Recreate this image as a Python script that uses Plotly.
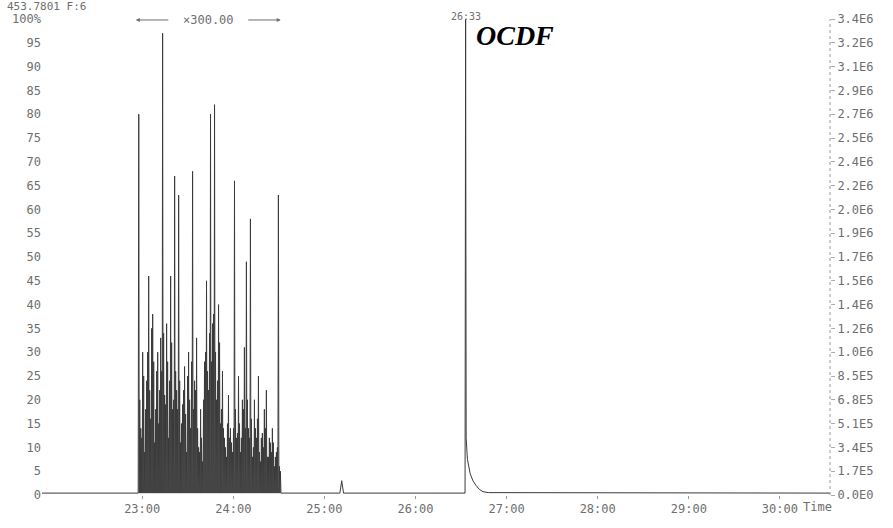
import plotly.graph_objects as go

# ---- chromatogram data (retention time in minutes, relative abundance in %) ----
# resolved spikes of the x300 enlarged region
cluster_times = [
    22.962, 22.984, 23.005, 23.027, 23.049, 23.071, 23.093, 23.115, 23.137, 23.159,
    23.181, 23.203, 23.224, 23.246, 23.268, 23.290, 23.312, 23.334, 23.356, 23.378,
    23.400, 23.422, 23.443, 23.465, 23.487, 23.509, 23.531, 23.553, 23.575, 23.597,
    23.619, 23.641, 23.662, 23.684, 23.706, 23.728, 23.750, 23.772, 23.794, 23.816,
    23.838, 23.860, 23.881, 23.903, 23.925, 23.947, 23.969, 23.991, 24.013, 24.035,
    24.057, 24.079, 24.100, 24.122, 24.144, 24.166, 24.188, 24.210, 24.232, 24.254,
    24.276, 24.298, 24.319, 24.341, 24.363, 24.385, 24.407, 24.429, 24.451, 24.473,
    24.495, 24.517,
]
cluster_heights = [
    80, 14, 30, 9, 24, 46, 16, 38, 11, 26,
    15, 33, 97, 21, 36, 12, 46, 18, 67, 22,
    63, 11, 19, 27, 9, 30, 14, 68, 24, 33,
    10, 18, 7, 28, 45, 22, 80, 36, 82, 20,
    40, 15, 26, 12, 8, 21, 14, 9, 66, 12,
    25, 9, 20, 31, 49, 14, 58, 8, 20, 12,
    25, 7, 13, 18, 22, 8, 11, 14, 6, 9,
    63, 5,
]
# minor spikes lying between the resolved ones
minor_times = [
    22.973, 22.995, 23.016, 23.038, 23.060, 23.082, 23.104, 23.126, 23.148, 23.170,
    23.192, 23.214, 23.235, 23.257, 23.279, 23.301, 23.323, 23.345, 23.367, 23.389,
    23.411, 23.432, 23.454, 23.476, 23.498, 23.520, 23.542, 23.564, 23.586, 23.608,
    23.630, 23.651, 23.673, 23.695, 23.717, 23.739, 23.761, 23.783, 23.805, 23.827,
    23.849, 23.870, 23.892, 23.914, 23.936, 23.958, 23.980, 24.002, 24.024, 24.046,
    24.068, 24.089, 24.111, 24.133, 24.155, 24.177, 24.199, 24.221, 24.243, 24.265,
    24.287, 24.308, 24.330, 24.352, 24.374, 24.396, 24.418, 24.440, 24.462, 24.484,
    24.506,
]
minor_heights = [
    20, 12, 25, 18, 30, 22, 35, 28, 18, 30,
    22, 26, 34, 19, 28, 24, 32, 20, 26, 18,
    24, 15, 22, 17, 25, 20, 28, 18, 22, 14,
    9, 12, 20, 30, 26, 34, 28, 38, 30, 24,
    32, 18, 14, 10, 15, 12, 11, 14, 18, 13,
    15, 12, 18, 14, 20, 12, 16, 10, 14, 16,
    9, 12, 10, 14, 8, 12, 9, 11, 8, 10,
    6,
]

small_peak_time = 25.19
small_peak_height = 3

ocdf_time = 26.55           # 26:33
ocdf_label = "26:33"
ocdf_height = 100
ocdf_tail_times = [26.556, 26.57, 26.60, 26.63, 26.665, 26.70, 26.74, 26.80]
ocdf_tail_heights = [12, 7.5, 4.5, 3.0, 2.0, 1.2, 0.7, 0.5]

time_range = [21.9, 30.55]
baseline_level = 0.4

x_ticks = [23, 24, 25, 26, 27, 28, 29, 30]
x_ticktext = ["23:00", "24:00", "25:00", "26:00", "27:00", "28:00", "29:00", "30:00"]

pct_ticks = list(range(0, 101, 5))
pct_ticktext = [str(v) for v in range(0, 100, 5)] + ["100%"]
abs_ticktext = ["0.0E0", "1.7E5", "3.4E5", "5.1E5", "6.8E5", "8.5E5", "1.0E6",
                "1.2E6", "1.4E6", "1.5E6", "1.7E6", "1.9E6", "2.0E6", "2.2E6",
                "2.4E6", "2.5E6", "2.7E6", "2.9E6", "3.1E6", "3.2E6", "3.4E6"]

header_text = "453.7801 F:6"
magnify_text = "×300.00"
magnified_range = [22.93, 24.52]

# ---- build the trace: each peak is a narrow spike rising from the baseline ----
spikes = sorted(zip(cluster_times + minor_times, cluster_heights + minor_heights))
xs = [time_range[0], spikes[0][0] - 0.006]
ys = [baseline_level, baseline_level]
for i, (t, h) in enumerate(spikes):
    xs.append(t)
    ys.append(h)
    nxt = spikes[i + 1][0] if i + 1 < len(spikes) else t + 0.012
    xs.append((t + nxt) / 2)
    ys.append(baseline_level)

xs += [small_peak_time - 0.02, small_peak_time, small_peak_time + 0.02,
       ocdf_time - 0.006, ocdf_time]
ys += [baseline_level, small_peak_height, baseline_level,
       baseline_level, ocdf_height]
xs += ocdf_tail_times + [time_range[1]]
ys += ocdf_tail_heights + [baseline_level]

GRAY = "#6e6e6e"
MONO = "DejaVu Sans Mono"

fig = go.Figure()
fig.add_trace(go.Scatter(
    x=xs, y=ys, mode="lines",
    line=dict(color="#3a3a3a", width=1),
    showlegend=False, hoverinfo="skip",
))
# carrier trace for the absolute-intensity axis on the right
fig.add_trace(go.Scatter(
    x=[time_range[0]], y=[0], yaxis="y2", mode="lines",
    line=dict(width=0), showlegend=False, hoverinfo="skip",
))

fig.update_layout(
    width=893, height=528,
    margin=dict(l=40, r=63, t=18, b=21),
    paper_bgcolor="white", plot_bgcolor="white",
    font=dict(family=MONO, size=12, color=GRAY),
    xaxis=dict(
        range=time_range, tickvals=x_ticks, ticktext=x_ticktext,
        showgrid=False, zeroline=False, showline=False,
        ticks="outside", ticklen=3, tickcolor="#999",
        tickfont=dict(family=MONO, size=12, color=GRAY),
    ),
    yaxis=dict(
        range=[0, 100], tickvals=pct_ticks, ticktext=pct_ticktext,
        showgrid=False, zeroline=False, showline=False, ticks="",
        tickfont=dict(family=MONO, size=12, color=GRAY),
    ),
    yaxis2=dict(
        range=[0, 100], overlaying="y", side="right", anchor="x",
        tickvals=pct_ticks, ticktext=abs_ticktext,
        showgrid=False, zeroline=False, showline=False,
        ticks="outside", ticklen=4, tickcolor="#aaa",
        tickfont=dict(family=MONO, size=12, color=GRAY),
    ),
)

# dotted right-hand axis line
fig.add_shape(type="line", xref="paper", yref="paper", x0=1, x1=1, y0=0, y1=1,
              line=dict(color="#999", width=1, dash="dot"))

def px_to_paper_x(px):
    return (px - 40) / 790

def px_to_paper_y(py):
    return (507 - py) / 489

fig.add_annotation(text=header_text, xref="paper", yref="paper",
                   x=px_to_paper_x(3), y=px_to_paper_y(5),
                   xanchor="left", yanchor="middle", showarrow=False,
                   font=dict(family=MONO, size=11, color=GRAY))

# magnification marker spanning the enlarged region
mid = (magnified_range[0] + magnified_range[1]) / 2
fig.add_annotation(text=magnify_text, xref="x", yref="paper",
                   x=mid, y=px_to_paper_y(19), xanchor="center", yanchor="middle",
                   showarrow=False, font=dict(family=MONO, size=12, color=GRAY))
for end, shift in ((magnified_range[0], 34), (magnified_range[1], -34)):
    fig.add_annotation(text="", xref="x", yref="paper", x=end, y=px_to_paper_y(19),
                       ax=shift, ay=0, showarrow=True, arrowhead=2,
                       arrowsize=0.8, arrowwidth=1, arrowcolor=GRAY)

fig.add_annotation(text=ocdf_label, xref="x", yref="paper",
                   x=ocdf_time, y=px_to_paper_y(15), xanchor="center", yanchor="middle",
                   showarrow=False, font=dict(family=MONO, size=10, color=GRAY))

fig.add_annotation(text="<b><i>OCDF</i></b>", xref="x", yref="paper",
                   x=ocdf_time, xshift=8, y=px_to_paper_y(35),
                   xanchor="left", yanchor="middle", showarrow=False,
                   font=dict(family="Liberation Serif", size=28, color="black"))

fig.add_annotation(text="Time", xref="paper", yref="paper",
                   x=px_to_paper_x(801), y=px_to_paper_y(519),
                   xanchor="left", yanchor="middle", showarrow=False,
                   font=dict(family=MONO, size=12, color=GRAY))

fig.write_html("out.html")
